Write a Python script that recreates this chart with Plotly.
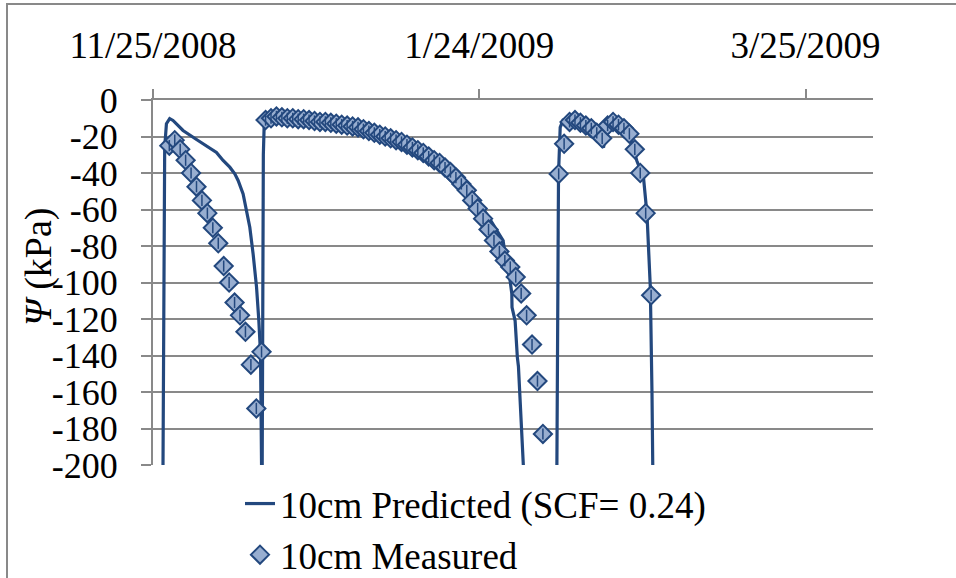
import datetime as dt
import plotly.graph_objects as go

START = dt.datetime(2008, 11, 25)

# Predicted (SCF=0.24): day offsets from 11/25/2008 and psi (kPa); None = break
pred_days = [1.84, 1.97, 2.15, 2.47, 3.07, 3.68, 5.52, 8.28, 9.83, 11.67, 12.89, 14.12,
             15.04, 15.65, 16.57, 17.2, 17.8, 18.41, 19.04, 19.46, 19.77, 19.96,
             None,
             20.08, 20.25, 20.29, 20.47, 21.07, 22.72, 24.25, 27.0, 30.69, 35.3, 40.45,
             45.42, 49.1, 52.79, 55.86, 58.91, 61.38, 63.09, 64.38, 65.06, 65.67, 65.98,
             66.02, 66.59, 66.9, 67.0, 67.2, 67.8, 67.95, 68.1,
             None,
             74.27, 74.42, 74.57, 74.88, 75.4, 76.7, 78.5, 81.0, 82.85, 83.5, 84.7,
             86.5, 87.73, 88.97, 90.2, 90.84, 91.45, 91.76, 91.9]
pred_vals = [-200, -62, -26, -13, -10.2, -11.2, -16.7, -22.2, -25, -28.7, -33.1, -36.8,
             -40.4, -44.1, -51.5, -61.5, -69.7, -84.3, -102.5, -120.8, -139, -200,
             None,
             -200, -100, -30, -11, -8, -5.5, -8, -9.5, -11, -14, -18.6,
             -23, -27.5, -35, -43, -53, -62.5, -71, -77, -91, -99, -106,
             -113.6, -121, -139, -141, -146, -184.5, -190, -200,
             None,
             -200, -100, -40.6, -15, -11, -9.7, -15, -19.7, -26, -13.3, -11.5,
             -15, -20.6, -33.3, -42.5, -62.5, -102.5, -161, -200]

# Measured: day offsets and psi (kPa)
meas_days = [3, 4, 5, 6, 7, 8, 9, 10, 11, 12, 13, 14, 15, 16, 17, 18, 19, 19.96,
             20.7, 21.7, 22.7, 23.7, 24.7, 25.7, 26.7, 27.7, 28.7, 29.7, 30.7, 31.7,
             32.7, 33.7, 34.7, 35.7, 36.7, 37.7, 38.7, 39.7, 40.7, 41.7, 42.7, 43.7,
             44.7, 45.7, 46.7, 47.7, 48.7, 49.7, 50.7, 51.7, 52.7, 53.7, 54.7, 55.7,
             56.7, 57.7, 58.7, 59.7, 60.7, 61.7, 62.7, 63.7, 64.7, 65.7, 66.7, 67.7,
             68.7, 69.7, 70.7, 71.7,
             74.6, 75.6, 76.6, 77.6, 78.6, 79.6, 80.6, 81.6, 82.6, 83.6, 84.6, 85.6,
             86.6, 87.6, 88.6, 89.6, 90.6, 91.6]
meas_vals = [-25, -22, -27, -33, -40, -47.5, -55, -62, -70, -78.5, -91, -100, -111,
             -118, -127, -145, -169, -138,
             -11, -10, -9, -9.5, -10, -10, -10.5, -10.5, -11, -11.5, -12, -12,
             -12.5, -13, -13.5, -14, -14.5, -15, -16, -17, -18, -19, -20, -21,
             -22, -23, -24.5, -26, -27.5, -29, -31, -33, -34.5, -37, -39.5, -42.5,
             -46, -49.5, -55, -59.5, -65, -71, -77, -83, -88, -91.5, -97, -106,
             -118, -134, -154, -183,
             -40.5, -24, -12, -11, -12.5, -14, -15.5, -18, -21, -14, -12, -13.5,
             -15.5, -18.5, -27, -40, -62, -107]

tick_dates = ["2008-11-25", "2009-01-24", "2009-03-25"]
tick_text = ["11/25/2008", "1/24/2009", "3/25/2009"]
y_ticks = list(range(0, -201, -20))
y_tick_text = [str(v) for v in y_ticks]  # plain hyphen minus, as in the reference

RANGE_DAYS = 132.4


def to_dt(days):
    return [None if d is None else START + dt.timedelta(days=d) for d in days]


DARK = "#23487e"
GRID = "#898989"
FONT = "Liberation Serif, Times New Roman, serif"

W, H = 956, 578
ML, MR, MT, MB = 153, 83, 100, 113
PW, PH = W - ML - MR, H - MT - MB

fig = go.Figure()
fig.add_trace(go.Scatter(
    x=to_dt(pred_days), y=pred_vals, mode="lines", connectgaps=False,
    name="10cm Predicted (SCF= 0.24)",
    line=dict(color=DARK, width=3.2),
))
fig.add_trace(go.Scatter(
    x=to_dt(meas_days), y=meas_vals, mode="markers",
    name="10cm Measured",
    marker=dict(symbol="diamond", size=14, color="#98aed0",
                line=dict(color=DARK, width=2)),
))
fig.add_trace(go.Scatter(
    x=to_dt(meas_days), y=meas_vals, mode="markers", showlegend=False,
    hoverinfo="skip",
    marker=dict(symbol="line-ns", size=8, line=dict(color=DARK, width=1.5)),
))

fig.update_layout(
    width=W, height=H,
    margin=dict(l=ML, r=MR, t=MT, b=MB, autoexpand=False),
    paper_bgcolor="white", plot_bgcolor="white",
    font=dict(family=FONT, size=36, color="black"),
    showlegend=True,
    legend=dict(x=(240 - ML) / PW, y=-(473 - (MT + PH)) / PH, xanchor="left",
                yanchor="top", font=dict(family=FONT, size=37),
                bgcolor="rgba(0,0,0,0)", tracegroupgap=0),
    xaxis=dict(
        type="date", side="top",
        range=[START, START + dt.timedelta(days=RANGE_DAYS)],
        tickvals=tick_dates, ticktext=tick_text,
        ticks="outside", ticklen=9, tickwidth=1.5, tickcolor=GRID,
        showgrid=False, zeroline=False,
        showline=True, linecolor=GRID, linewidth=2,
        tickfont=dict(family=FONT, size=37),
        ticklabelstandoff=16,
    ),
    yaxis=dict(
        range=[-200, 0], tickvals=y_ticks, ticktext=y_tick_text,
        ticks="outside", ticklen=10, tickwidth=1.5, tickcolor=GRID,
        showgrid=True, gridcolor=GRID, gridwidth=2,
        zeroline=False, showline=True, linecolor=GRID, linewidth=2,
        tickfont=dict(family=FONT, size=36),
        ticklabelstandoff=16,
    ),
    annotations=[dict(
        text="<i>Ψ</i> (kPa)", textangle=-90, showarrow=False,
        xref="paper", yref="paper",
        x=(38 - ML) / PW, y=(MT + PH - 267) / PH,
        xanchor="center", yanchor="middle",
        font=dict(family=FONT, size=38),
    )],
    shapes=[dict(
        type="rect", xref="paper", yref="paper", layer="below",
        x0=(7 - ML) / PW, x1=(W + 20 - ML) / PW,
        y0=-(H + 20 - (MT + PH)) / PH, y1=(MT + PH - 4) / PH,
        line=dict(color=GRID, width=2), fillcolor="rgba(0,0,0,0)",
    )],
)

fig.write_html("out.html")
